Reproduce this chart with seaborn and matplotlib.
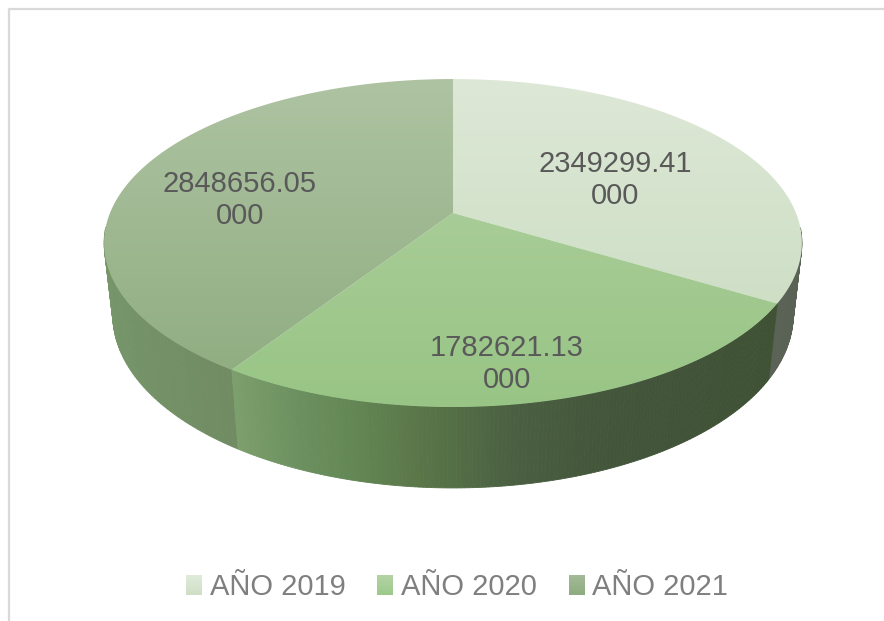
import numpy as np
import seaborn as sns
import matplotlib
matplotlib.use("Agg")
import matplotlib.pyplot as plt
from matplotlib.legend_handler import HandlerBase
from matplotlib.patches import Patch, Polygon, Rectangle

years = ["AÑO 2019", "AÑO 2020", "AÑO 2021"]
amounts = [2349299.41, 1782621.13, 2848656.05]
label_text = ["2349299.41\n000", "1782621.13\n000", "2848656.05\n000"]

# top face colours, upper to lower in screen space
top_colors = [["#dde8d6", "#c8dbbf"], ["#b3d1a3", "#98c585"], ["#aec3a2", "#8dab7e"]]
# side colours along each slice, in clockwise order
side_colors = [
    ["#5c6357", "#5c6357", "#5a6155"],
    ["#3f5133", "#405235", "#415338", "#42553a", "#45583c", "#4b6142",
     "#587347", "#628553", "#6d9160", "#7d9f6d"],
    ["#718c63", "#76966a", "#80a074", "#80a074", "#80a074"],
]
legend_colors = [["#e0eadb", "#cfdfc6"], ["#b4d3a5", "#9cc98a"], ["#a3b998", "#8eac80"]]

sns.set_theme(style="white")
plt.rcParams["font.family"] = ["Liberation Sans", "DejaVu Sans"]


def project(theta, depth=0.0):
    # perspective view of the round pie, depth 0 is the top face and 1 the bottom
    u, v = np.sin(theta), -np.cos(theta)
    w = 1 - 0.183 * v + 0.0247 * depth
    return 453 + 343 * u / w, (119.5 * v + 213 + 78.2 * depth) / w


class GradientHandle(HandlerBase):
    # legend swatch with the same vertical fade as the slices
    def __init__(self, colors):
        super().__init__()
        self.colors = colors

    def create_artists(self, legend, orig_handle, xdescent, ydescent, width, height, fontsize, trans):
        shades = sns.blend_palette(self.colors, n_colors=16)
        step = height / len(shades)
        return [Rectangle((-xdescent, -ydescent + height - (k + 1) * step), width, step * 1.05,
                          facecolor=c, edgecolor="none", transform=trans)
                for k, c in enumerate(shades)]


fig, ax = plt.subplots(figsize=(8.84, 6.21), dpi=100)
fig.subplots_adjust(0, 0, 1, 1)

edges = np.cumsum([0] + amounts) / sum(amounts) * 2 * np.pi

# side wall, far strips first so the near ones stay on top
strips = []
for i in range(3):
    angles = np.linspace(edges[i], edges[i + 1], 160)
    shades = sns.blend_palette(side_colors[i], n_colors=len(angles))
    for a0, a1, c in zip(angles[:-1], angles[1:], shades):
        # strips behind the widest part stay hidden by the top face
        if -np.cos(a0) > 0.1 or -np.cos(a1) > 0.1:
            strips.append((a0, a1, c))
strips.sort(key=lambda s: -np.cos(s[0]))
for a0, a1, c in strips:
    x0, y0 = project(a0)
    x1, y1 = project(a1)
    x2, y2 = project(a1, 1)
    x3, y3 = project(a0, 1)
    ax.fill([x0, x1, x2, x3], [y0, y1, y2, y3], color=c, lw=0.6, zorder=2)

# top face with a vertical gradient for every slice
for i in range(3):
    angles = np.linspace(edges[i], edges[i + 1], 200)
    xs, ys = project(angles)
    outline = np.column_stack([np.r_[453, xs], np.r_[213, ys]])
    clip = Polygon(outline, closed=True, transform=ax.transData, fc="none", ec="none")
    ax.add_patch(clip)
    cmap = sns.blend_palette(top_colors[i], as_cmap=True)
    im = ax.imshow(np.linspace(0, 1, 256)[:, None], cmap=cmap, aspect="auto",
                   extent=(104, 802, 407, 79), zorder=3)
    im.set_clip_path(clip)

# data labels
label_pos = [(615, 180), (507, 364), (240, 200)]
for (x, y), txt in zip(label_pos, label_text):
    ax.text(x, y, txt, ha="center", va="center", fontsize=21, color="#595959",
            linespacing=1.155, zorder=4)

ax.set_xlim(0, 884)
ax.set_ylim(621, 0)
ax.axis("off")

# chart frame, only the top and left edges fall inside the image
ax.plot([9, 9, 884], [621, 9, 9], color="#d9d9d9", lw=1.6, zorder=1)

handles = [Patch(label=y) for y in years]
hmap = {h: GradientHandle(c) for h, c in zip(handles, legend_colors)}
ax.legend(handles=handles, handler_map=hmap, loc="center", bbox_to_anchor=(457, 587),
          bbox_transform=ax.transData, ncol=3, frameon=False, fontsize=21, labelcolor="#7f7f7f",
          handlelength=0.55, handleheight=0.7, handletextpad=0.25, columnspacing=1.1, borderpad=0)

fig.savefig("out.png", dpi=100)
